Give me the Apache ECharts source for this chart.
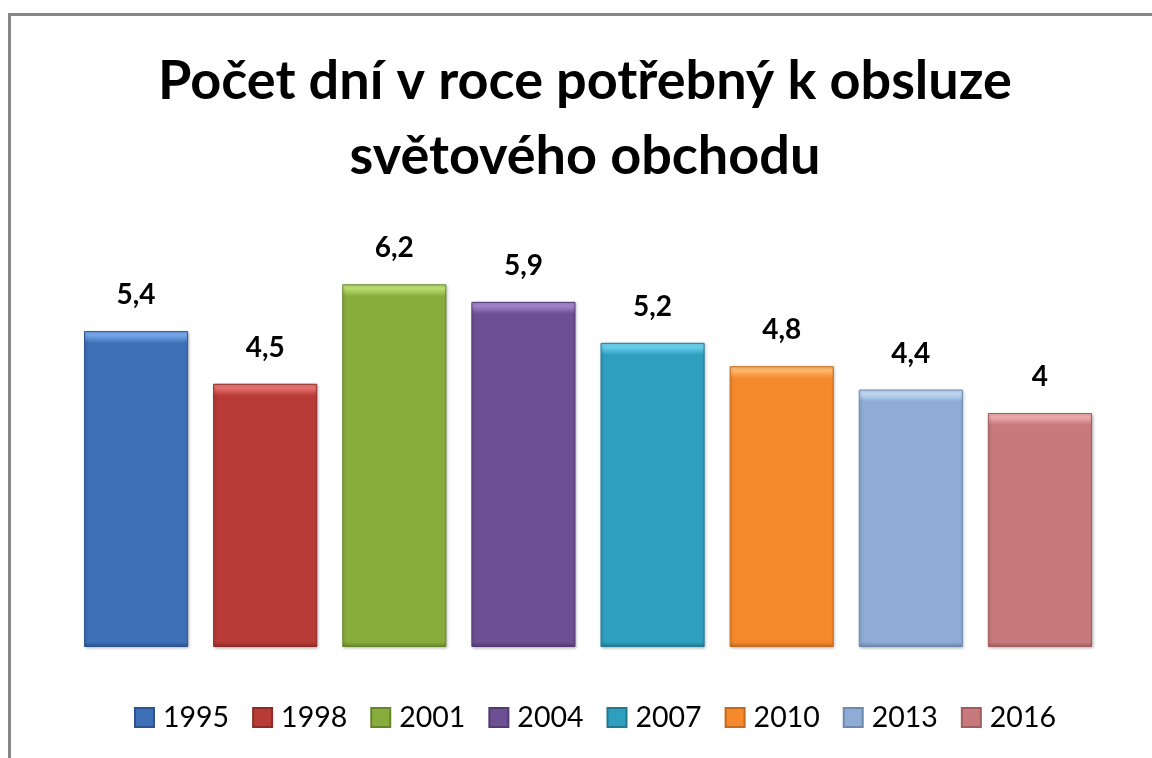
<!DOCTYPE html>
<html>
<head>
<meta charset="utf-8">
<title></title>
<script src="https://cdn.jsdelivr.net/npm/echarts@6/dist/echarts.min.js"></script>
<style>
  html, body { margin: 0; padding: 0; background: #fff; overflow: hidden; }
  #wrap { position: relative; width: 1152px; height: 758px; overflow: hidden; }
  #frame { position: absolute; left: 8px; top: 13px; width: 1300px; height: 900px;
           border-top: 3px solid #878787; border-left: 3px solid #878787; }
  #main { position: absolute; left: 0; top: 0; width: 1152px; height: 758px; }
</style>
</head>
<body>
<div id="wrap">
  <div id="frame"></div>
  <div id="main"></div>
</div>
<script type="text/javascript">
var years = ['1995', '1998', '2001', '2004', '2007', '2010', '2013', '2016'];
var values = [5.4, 4.5, 6.2, 5.9, 5.2, 4.8, 4.4, 4];
var colors = ['#3d70b7', '#b83b38', '#88ad3c', '#6d4f94', '#2f9fbf', '#f5892b', '#8eacd6', '#c8797b'];
var lights = ['#77a8eb', '#e8736f', '#bde073', '#a386cb', '#6bd3ee', '#ffbb70', '#c3daf7', '#f0adaf'];
var darks = ['#2b5490', '#8e2b29', '#66852b', '#523a72', '#22798f', '#c46a1e', '#6d88ad', '#a05d5f'];

var yMax = 7;
var plotTop = 237.5, plotBottom = 111;
var plotH = 758 - plotTop - plotBottom;

var myChart = echarts.init(document.getElementById('main'));

var series = years.map(function (y, i) {
  var h = values[i] / yMax * plotH;
  return {
    name: y,
    type: 'bar',
    data: [values[i]],
    barGap: '24%',
    barCategoryGap: '0%',
    itemStyle: {
      color: new echarts.graphic.LinearGradient(0, 0, 0, 1, [
        { offset: 0, color: lights[i] },
        { offset: 4 / h, color: lights[i] },
        { offset: 12 / h, color: colors[i] },
        { offset: 1 - 5 / h, color: colors[i] },
        { offset: 1, color: darks[i] }
      ]),
      borderColor: darks[i],
      borderWidth: 1,
      shadowColor: 'rgba(0,0,0,0.25)',
      shadowBlur: 3,
      shadowOffsetX: 1,
      shadowOffsetY: 1
    },
    label: {
      show: true,
      position: 'top',
      distance: 22,
      fontFamily: 'Lato',
      fontWeight: 'bold',
      fontSize: 28,
      color: '#000',
      formatter: function (p) { return String(p.value).replace('.', ','); }
    }
  };
});

var option = {
  animation: false,
  title: {
    text: 'Počet dní v roce potřebný k obsluze\nsvětového obchodu',
    left: 580,
    textAlign: 'center',
    top: 39,
    textStyle: {
      fontFamily: 'Lato',
      fontWeight: 'bold',
      fontSize: 54,
      lineHeight: 75,
      color: '#000'
    }
  },
  legend: {
    bottom: 26,
    left: 134,
    padding: 0,
    itemWidth: 19,
    itemHeight: 19,
    itemGap: 23,
    icon: 'rect',
    textStyle: { fontFamily: 'Lato', fontSize: 28.5, color: '#000', padding: [0, 0, 0, 4] },
    data: years
  },
  grid: { left: 84, right: 60, top: plotTop, bottom: plotBottom },
  xAxis: { type: 'category', data: [''], show: false },
  yAxis: { type: 'value', min: 0, max: yMax, show: false },
  series: series
};

myChart.setOption(option);
</script>
</body>
</html>
